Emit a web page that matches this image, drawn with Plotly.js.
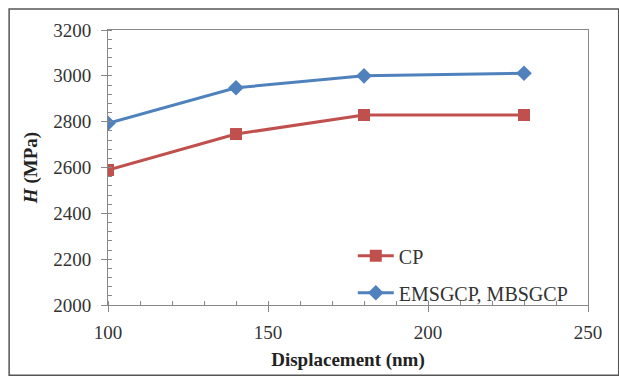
<!DOCTYPE html>
<html><head><meta charset="utf-8">
<script src="https://cdn.plot.ly/plotly-3.0.1.min.js"></script>
<style>html,body{margin:0;padding:0;background:#fff;}#chart{width:619px;height:378px;}</style>
</head><body><div id="chart"></div>
<script>
const displacement = [100, 140, 180, 230];
const cpValues = [2589, 2746, 2829, 2829];
const emsValues = [2793, 2948, 3000, 3011];
const seriesNames = ["CP", "EMSGCP, MBSGCP"];
const xTicks = [100, 150, 200, 250];
const yTicks = [2000, 2200, 2400, 2600, 2800, 3000, 3200];

const font = "Liberation Serif";
const traces = [
  {x: displacement, y: cpValues, name: seriesNames[0], legendgroup: "a", mode: "lines+markers",
   line: {color: "#C0504D", width: 3}, marker: {symbol: "square", size: 12, color: "#C0504D"}},
  {x: displacement, y: emsValues, name: seriesNames[1], legendgroup: "b", mode: "lines+markers",
   line: {color: "#4F81BD", width: 3}, marker: {symbol: "diamond", size: 12, color: "#4F81BD"}}
];
const layout = {
  width: 619, height: 378,
  margin: {l: 108, r: 31, t: 30, b: 73},
  paper_bgcolor: "#fff", plot_bgcolor: "#fff",
  font: {family: font, size: 18, color: "#333"},
  showlegend: true,
  legend: {x: 0.51, y: 0.25, xanchor: "left", yanchor: "top", bgcolor: "rgba(0,0,0,0)",
           font: {family: font, size: 20, color: "#333"}, itemwidth: 36, tracegroupgap: 8},
  xaxis: {range: [100, 250], tickvals: xTicks, ticks: "outside", ticklen: 6, tickcolor: "#888",
          showgrid: false, zeroline: false, showline: true, linecolor: "#888", linewidth: 1, mirror: true,
          tickfont: {family: font, size: 19, color: "#333"}, ticklabelstandoff: 4,
          minor: {dtick: 10, ticks: "inside", ticklen: 4, tickcolor: "#888", showgrid: false},
          title: {text: "<b>Displacement (nm)</b>", font: {family: font, size: 19, color: "#222"}, standoff: 10}},
  yaxis: {range: [2000, 3200], tickvals: yTicks, ticks: "outside", ticklen: 6, tickcolor: "#888",
          showgrid: false, zeroline: false, showline: true, linecolor: "#888", linewidth: 1, mirror: true,
          tickfont: {family: font, size: 19, color: "#333"}, ticklabelstandoff: 6,
          minor: {dtick: 40, ticks: "inside", ticklen: 4, tickcolor: "#888", showgrid: false},
          title: {text: "<b><i>H</i> (MPa)</b>", font: {family: font, size: 19, color: "#222"}, standoff: 10}},
  shapes: [{type: "rect", xref: "paper", yref: "paper",
            x0: -0.206, x1: 1.064, y0: -0.255, y1: 1.076,
            line: {color: "#555", width: 1.5}}]
};
Plotly.newPlot("chart", traces, layout, {staticPlot: true});
</script></body></html>
